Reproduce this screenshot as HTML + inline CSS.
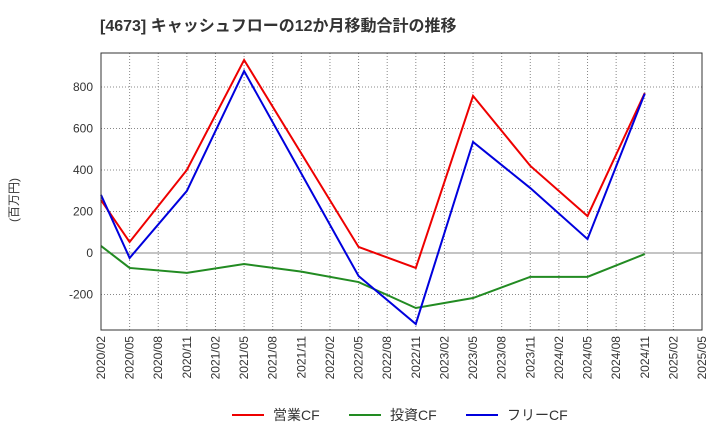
<!DOCTYPE html>
<html><head><meta charset="utf-8"><style>
body{margin:0;background:#fff;font-family:"Liberation Sans","Noto Sans CJK JP",sans-serif}
svg text{font-family:"Liberation Sans","Noto Sans CJK JP",sans-serif}
</style></head><body>
<svg id="c" width="720" height="440">
<text x="100" y="31" font-size="16" font-weight="bold" fill="#333">[4673]  キャッシュフローの12か月移動合計の推移</text>
<text transform="translate(18,200) rotate(-90)" font-size="12" fill="#333" text-anchor="middle">(百万円)</text>
<g id="grid"></g><g id="series"></g><g id="axes"></g>
<g>
<g><line x1="232" y1="415" x2="264" y2="415" stroke="#e00" stroke-width="2"/><text x="273" y="420" font-size="14" fill="#333">営業CF</text></g>
<g><line x1="349" y1="415" x2="381" y2="415" stroke="#228b22" stroke-width="2"/><text x="390" y="420" font-size="14" fill="#333">投資CF</text></g>
<g><line x1="466" y1="415" x2="498" y2="415" stroke="#00d" stroke-width="2"/><text x="507" y="420" font-size="14" fill="#333">フリーCF</text></g>
</g>
</svg>
<script>
const tickLabels=["2020/02","2020/05","2020/08","2020/11","2021/02","2021/05","2021/08","2021/11","2022/02","2022/05","2022/08","2022/11","2023/02","2023/05","2023/08","2023/11","2024/02","2024/05","2024/08","2024/11","2025/02","2025/05"];
const yTicks=[-200,0,200,400,600,800];
const opIdx=[0,1,3,5,9,11,13,15,17,19];
const opVals=[255,53,400,930,29,-72,757,420,178,771];
const freeIdx=[0,1,3,5,9,11,13,15,17,19];
const freeVals=[280,-24,299,877,-111,-342,535,313,67,768];
const invIdx=[0,1,3,5,7,9,11,13,15,17,19];
const invVals=[34,-72,-96,-53,-90,-140,-265,-217,-115,-115,-5];
const L=101,R=702,T=53,B=330;
const x=i=>L+i*(R-L)/(tickLabels.length-1);
const y=v=>253-v*0.2075;
const NS="http://www.w3.org/2000/svg";
const mk=(p,t,a)=>{const e=document.createElementNS(NS,t);for(const k in a)e.setAttribute(k,a[k]);document.getElementById(p).appendChild(e);return e;};
tickLabels.forEach((t,i)=>{
 const g=mk('grid','line',{x1:x(i),x2:x(i),y1:T,y2:B,stroke:'#888','stroke-dasharray':'1,2','stroke-width':1});
 
 
 const tx=mk('axes','text',{x:0,y:0,'font-size':12,fill:'#333','text-anchor':'end',transform:`translate(${x(i)+4},${B+6}) rotate(-90)`});
 tx.textContent=t;
 
 
});
yTicks.forEach(v=>{
 const g=mk('grid','line',{x1:L,x2:R,y1:y(v),y2:y(v),stroke:'#888','stroke-dasharray':v===0?'':'1,2','stroke-width':1});
 
 
 const tx=mk('axes','text',{x:L-8,y:y(v)+4,'font-size':12,fill:'#333','text-anchor':'end'});
 tx.textContent=v;
 
 
});
const box=mk('axes','rect',{x:L,y:T,width:R-L,height:B-T,fill:'none',stroke:'#333','stroke-width':1});


function line(idx,vals,col,name){
 const p=mk('series','polyline',{points:idx.map((i,k)=>x(i)+','+y(vals[k])).join(' '),fill:'none',stroke:col,'stroke-width':2});
 
 
}
line(invIdx,invVals,'#228b22','investing-cf-line');
line(opIdx,opVals,'#e00','operating-cf-line');
line(freeIdx,freeVals,'#00d','free-cf-line');
</script>
</body></html>
